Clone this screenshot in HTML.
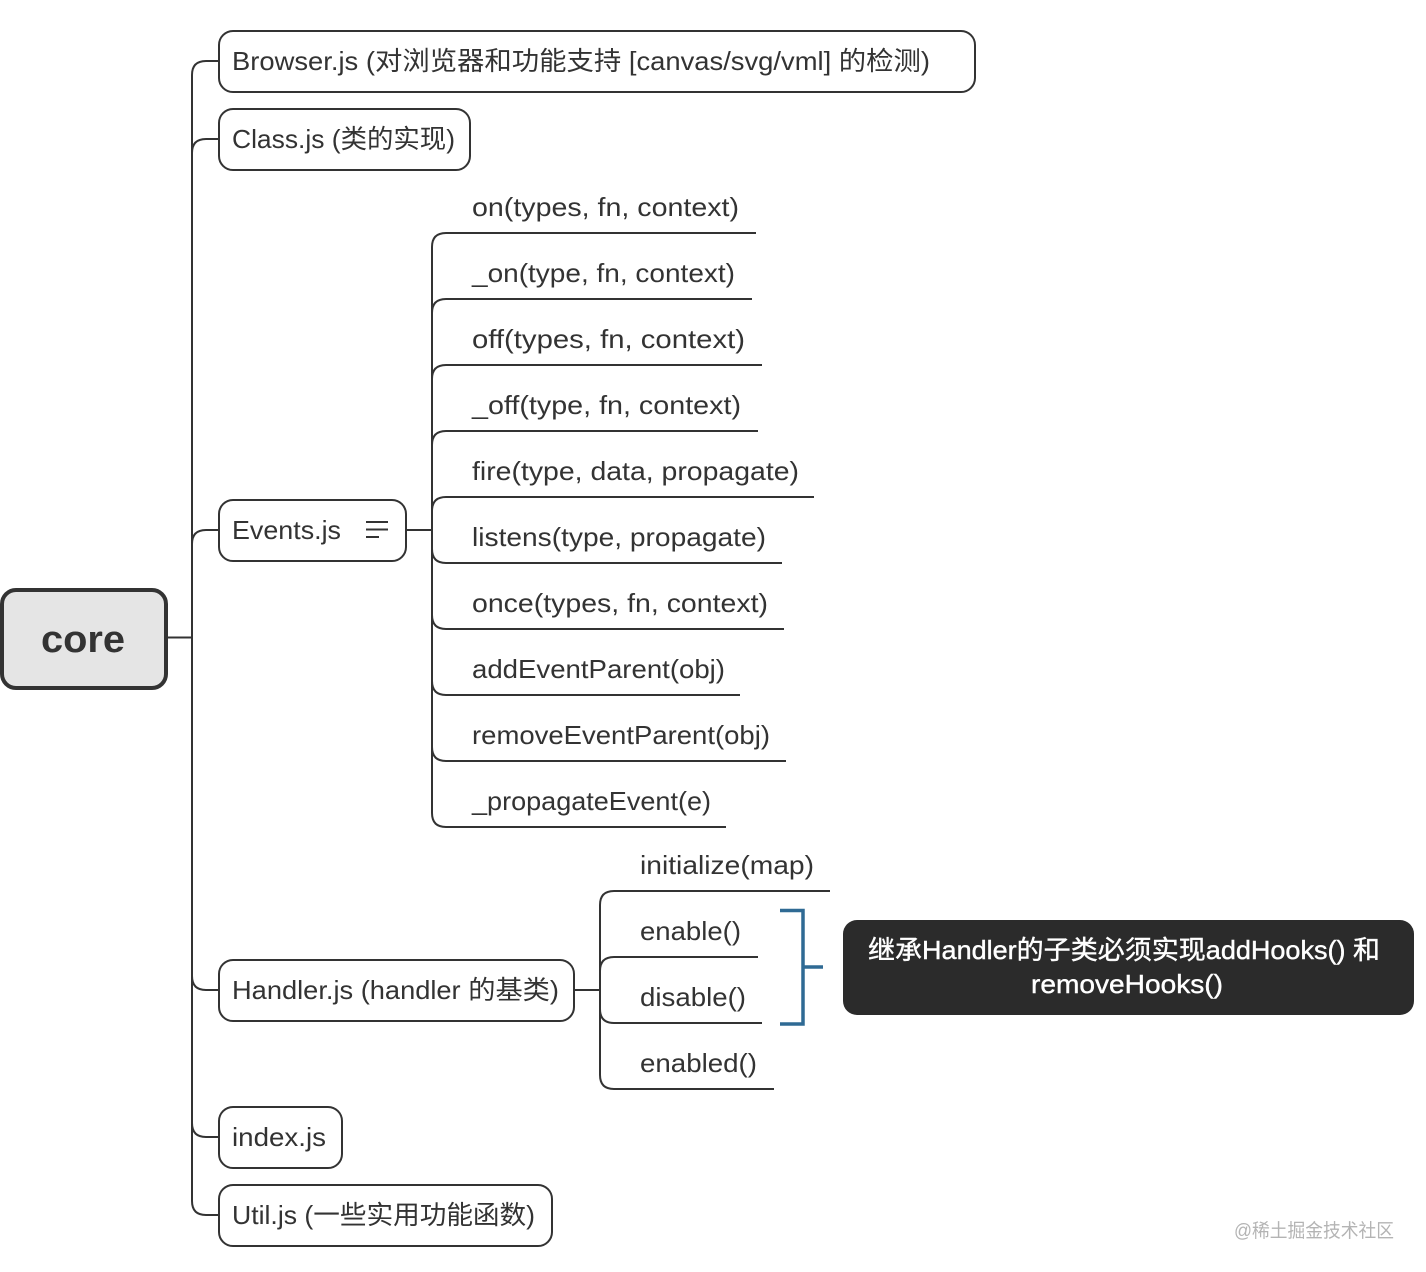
<!DOCTYPE html>
<html><head><meta charset="utf-8"><style>
html,body{margin:0;padding:0;background:#fff}
svg{display:block}
text{font-family:"Liberation Sans","Noto Sans CJK SC",sans-serif;font-size:26px;fill:#333}
</style></head><body>
<svg width="1426" height="1272" viewBox="0 0 1426 1272" xmlns="http://www.w3.org/2000/svg">
<rect width="1426" height="1272" fill="#fff"/>
<g fill="none" stroke="#333" stroke-width="2">
<path d="M166 637.500H192"/>
<path d="M219 61H206Q192 61 192 75V1201Q192 1215 206 1215H219"/>
<path d="M219 139H206Q192 139 192 153"/>
<path d="M219 530H206Q192 530 192 544"/>
<path d="M219 990H206Q192 990 192 976"/>
<path d="M219 1137H206Q192 1137 192 1123"/>
<rect x="219" y="31" width="756" height="61" rx="14"/>
<rect x="219" y="109" width="251" height="61" rx="14"/>
<rect x="219" y="500" width="187" height="61" rx="14"/>
<rect x="219" y="960" width="355" height="61" rx="14"/>
<rect x="219" y="1107" width="123" height="61" rx="14"/>
<rect x="219" y="1185" width="333" height="61" rx="14"/>
<path d="M406 530H432"/>
<path d="M756 233H446Q432 233 432 247V813Q432 827 446 827H726"/>
<path d="M752 299H446Q432 299 432 313"/>
<path d="M762 365H446Q432 365 432 379"/>
<path d="M758 431H446Q432 431 432 445"/>
<path d="M814 497H446Q432 497 432 511"/>
<path d="M782 563H446Q432 563 432 549"/>
<path d="M784 629H446Q432 629 432 615"/>
<path d="M740 695H446Q432 695 432 681"/>
<path d="M786 761H446Q432 761 432 747"/>
<path d="M574 990H600"/>
<path d="M830 891H614Q600 891 600 905V1075Q600 1089 614 1089H774"/>
<path d="M758 957H614Q600 957 600 971V1009Q600 1023 614 1023H762"/>
<path d="M366 522H388M366 529.500H388M366 537H379"/>
</g>
<rect x="2" y="590" width="164" height="98" rx="14" fill="#e5e5e5" stroke="#333" stroke-width="4"/>
<path d="M780 910.500H803V1024H780M803 967H823" fill="none" stroke="#2f6a94" stroke-width="3.500"/>
<rect x="843" y="920" width="571" height="95" rx="14" fill="#2b2b2b"/>
<g>
<text x="41" y="652" style="font-size:38px;font-weight:bold" textLength="84" lengthAdjust="spacingAndGlyphs">core</text>
<text x="232" y="70" textLength="698" lengthAdjust="spacingAndGlyphs">Browser.js (对浏览器和功能支持 [canvas/svg/vml] 的检测)</text>
<text x="232" y="148" textLength="223" lengthAdjust="spacingAndGlyphs">Class.js (类的实现)</text>
<text x="232" y="539" textLength="109" lengthAdjust="spacingAndGlyphs">Events.js</text>
<text x="232" y="999" textLength="327" lengthAdjust="spacingAndGlyphs">Handler.js (handler 的基类)</text>
<text x="232" y="1146" textLength="94" lengthAdjust="spacingAndGlyphs">index.js</text>
<text x="232" y="1224" textLength="303" lengthAdjust="spacingAndGlyphs">Util.js (一些实用功能函数)</text>
<text x="472" y="216" textLength="267" lengthAdjust="spacingAndGlyphs">on(types, fn, context)</text>
<text x="472" y="282" textLength="263" lengthAdjust="spacingAndGlyphs">_on(type, fn, context)</text>
<text x="472" y="348" textLength="273" lengthAdjust="spacingAndGlyphs">off(types, fn, context)</text>
<text x="472" y="414" textLength="269" lengthAdjust="spacingAndGlyphs">_off(type, fn, context)</text>
<text x="472" y="480" textLength="327" lengthAdjust="spacingAndGlyphs">fire(type, data, propagate)</text>
<text x="472" y="546" textLength="294" lengthAdjust="spacingAndGlyphs">listens(type, propagate)</text>
<text x="472" y="612" textLength="296" lengthAdjust="spacingAndGlyphs">once(types, fn, context)</text>
<text x="472" y="678" textLength="253" lengthAdjust="spacingAndGlyphs">addEventParent(obj)</text>
<text x="472" y="744" textLength="298" lengthAdjust="spacingAndGlyphs">removeEventParent(obj)</text>
<text x="472" y="810" textLength="239" lengthAdjust="spacingAndGlyphs">_propagateEvent(e)</text>
<text x="640" y="874" textLength="174" lengthAdjust="spacingAndGlyphs">initialize(map)</text>
<text x="640" y="940" textLength="101" lengthAdjust="spacingAndGlyphs">enable()</text>
<text x="640" y="1006" textLength="106" lengthAdjust="spacingAndGlyphs">disable()</text>
<text x="640" y="1072" textLength="117" lengthAdjust="spacingAndGlyphs">enabled()</text>
<text x="868" y="959" style="fill:#fff;stroke:#fff;stroke-width:.4" textLength="512" lengthAdjust="spacingAndGlyphs">继承Handler的子类必须实现addHooks() 和</text>
<text x="1031" y="993" style="fill:#fff;stroke:#fff;stroke-width:.4" textLength="192" lengthAdjust="spacingAndGlyphs">removeHooks()</text>
<text x="1234" y="1237" style="font-size:19px;fill:#b4b4b4" textLength="160" lengthAdjust="spacingAndGlyphs">@稀土掘金技术社区</text>
</g>
</svg>
</body></html>
